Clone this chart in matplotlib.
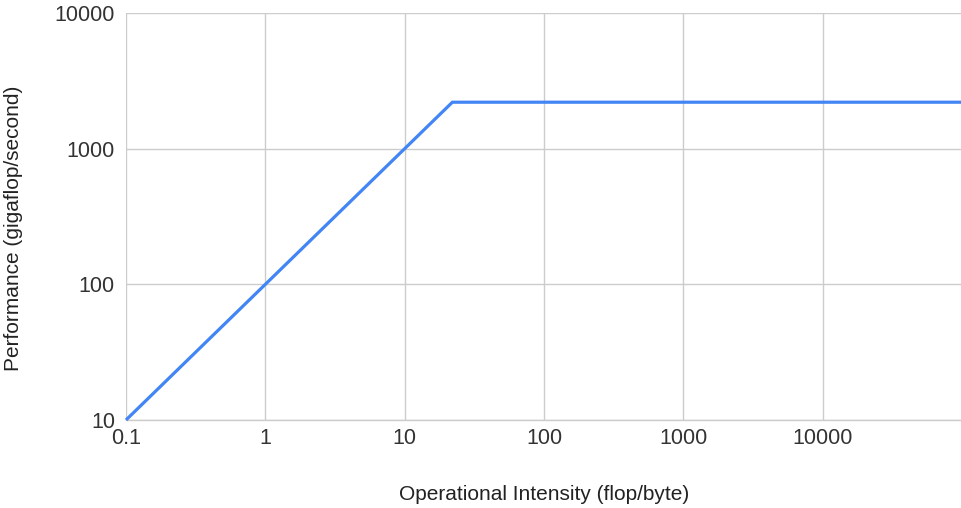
import matplotlib
matplotlib.use("Agg")
import matplotlib.pyplot as plt
from matplotlib.ticker import FixedLocator, FixedFormatter, NullLocator

# roofline: memory-bound slope up to the knee, then flat compute peak
intensity = [0.1, 22, 100000]
performance = [10, 2200, 2200]

x_ticks = [0.1, 1, 10, 100, 1000, 10000]
x_labels = ["0.1", "1", "10", "100", "1000", "10000"]
y_ticks = [10, 100, 1000, 10000]
y_labels = ["10", "100", "1000", "10000"]

plt.rcParams["font.family"] = ["Liberation Sans", "DejaVu Sans"]

W, H = 962, 508
fig = plt.figure(figsize=(W / 100, H / 100), dpi=100)
ax = fig.add_axes([126 / W, 1 - 420 / H, 1 - 126 / W, (420 - 13) / H])

ax.plot(intensity, performance, color="#4285F4", linewidth=2.3, solid_capstyle="butt",
        solid_joinstyle="miter", clip_on=False, zorder=3)

ax.set_xscale("log")
ax.set_yscale("log")
ax.set_xlim(0.1, 100000)
ax.set_ylim(10, 10000)

ax.xaxis.set_major_locator(FixedLocator(x_ticks))
ax.xaxis.set_major_formatter(FixedFormatter(x_labels))
ax.xaxis.set_minor_locator(NullLocator())
ax.yaxis.set_major_locator(FixedLocator(y_ticks))
ax.yaxis.set_major_formatter(FixedFormatter(y_labels))
ax.yaxis.set_minor_locator(NullLocator())

ax.grid(True, color="#cccccc", linewidth=1.0)
ax.set_axisbelow(True)
for side in ["top", "right", "left"]:
    ax.spines[side].set_visible(False)
ax.spines["bottom"].set_color("#cccccc")
ax.spines["bottom"].set_linewidth(1.0)

ax.tick_params(length=0, labelsize=15.5, colors="#333333", pad=6)
ax.tick_params(axis="y", pad=8)

ax.set_xlabel("Operational Intensity (flop/byte)", fontsize=15, color="#222222")
ax.set_ylabel("Performance (gigaflop/second)", fontsize=15, color="#222222")
ax.xaxis.set_label_coords((544 - 126) / 836, (420 - 495) / 407)
ax.yaxis.set_label_coords((14 - 126) / 836, (420 - 228) / 407)
ax.xaxis.label.set_va("center")
ax.yaxis.label.set_va("center")

fig.savefig("out.png", dpi=100)
